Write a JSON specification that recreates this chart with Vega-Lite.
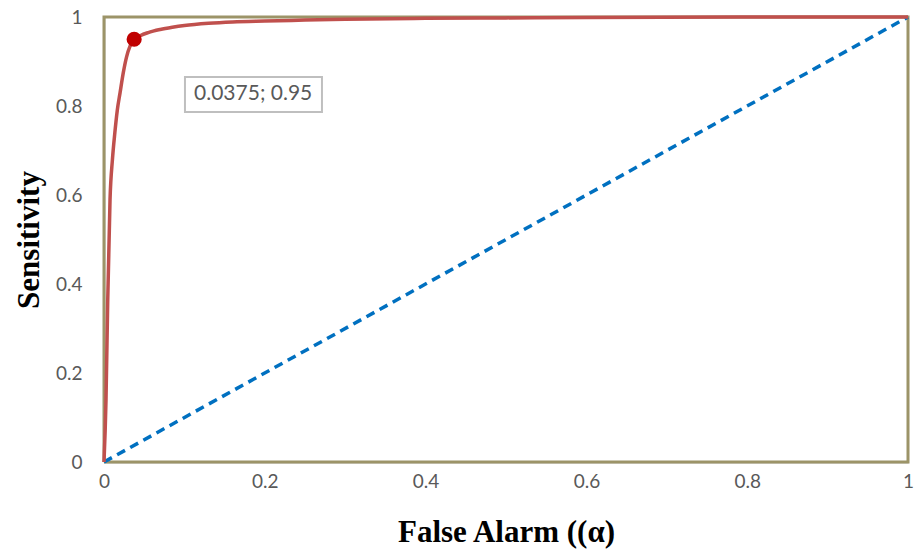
{
  "$schema": "https://vega.github.io/schema/vega-lite/v6.json",
  "autosize": "none",
  "width": 804,
  "height": 445,
  "padding": {"left": 104, "top": 17, "right": 7, "bottom": 87},
  "background": "white",
  "config": {
    "view": {"stroke": null},
    "axis": {"grid": false, "labelFont": "Lato", "labelFontSize": 19, "labelColor": "#595959", "labelFlush": false, "domainColor": "#BFBFBF", "domainWidth": 2, "tickColor": "#BFBFBF", "titleFont": "Liberation Serif", "titleFontWeight": "bold", "titleFontSize": 31, "titleColor": "#000000"}
  },
  "datasets": {
    "frame": [
      {"x": 0, "y": 0, "o": 1}, {"x": 0, "y": 1, "o": 2}, {"x": 1, "y": 1, "o": 3}, {"x": 1, "y": 0, "o": 4}, {"x": 0, "y": 0, "o": 5}
    ],
    "diag": [{"x": 0, "y": 0}, {"x": 1, "y": 1}],
    "roc": [
      {"x": 0, "y": 0}, {"x": 0.0025, "y": 0.14}, {"x": 0.0046, "y": 0.36}, {"x": 0.0075, "y": 0.59},
      {"x": 0.0105, "y": 0.68}, {"x": 0.0135, "y": 0.74}, {"x": 0.0165, "y": 0.79}, {"x": 0.02, "y": 0.83},
      {"x": 0.024, "y": 0.875}, {"x": 0.028, "y": 0.91}, {"x": 0.0325, "y": 0.935}, {"x": 0.0375, "y": 0.95},
      {"x": 0.045, "y": 0.958}, {"x": 0.055, "y": 0.965}, {"x": 0.07, "y": 0.972}, {"x": 0.085, "y": 0.977},
      {"x": 0.1, "y": 0.981}, {"x": 0.13, "y": 0.986}, {"x": 0.16, "y": 0.989}, {"x": 0.2, "y": 0.991},
      {"x": 0.25, "y": 0.993}, {"x": 0.3, "y": 0.995}, {"x": 0.4, "y": 0.997}, {"x": 0.5, "y": 0.998},
      {"x": 0.6, "y": 0.999}, {"x": 0.8, "y": 1}, {"x": 1, "y": 1}
    ],
    "pt": [{"x": 0.0375, "y": 0.95, "label": "0.0375; 0.95"}]
  },
  "encoding": {
    "x": {"field": "x", "type": "quantitative", "scale": {"domain": [0, 1], "nice": false},
      "axis": {"title": "False Alarm ((α)", "values": [0, 0.2, 0.4, 0.6, 0.8, 1], "format": "~g", "ticks": false, "labelPadding": 10, "titlePadding": 26}},
    "y": {"field": "y", "type": "quantitative", "scale": {"domain": [0, 1], "nice": false},
      "axis": {"title": "Sensitivity", "values": [0, 0.2, 0.4, 0.6, 0.8, 1], "format": "~g", "ticks": false, "labelPadding": 22, "titlePadding": 10}}
  },
  "layer": [
    {"data": {"name": "frame"}, "mark": {"type": "line", "color": "#9C9468", "strokeWidth": 3, "clip": false}, "encoding": {"order": {"field": "o"}}},
    {"data": {"name": "diag"}, "mark": {"type": "line", "color": "#0070C0", "strokeWidth": 3.5, "strokeDash": [9, 6]}},
    {"data": {"name": "roc"}, "mark": {"type": "line", "color": "#C0504D", "strokeWidth": 3.5, "interpolate": "monotone"}},
    {"data": {"name": "pt"}, "mark": {"type": "point", "filled": true, "color": "#C00000", "size": 230, "opacity": 1}},
    {"data": {"name": "pt"}, "mark": {"type": "rect", "fill": "white", "stroke": "#BFBFBF", "strokeWidth": 2},
      "encoding": {"x": {"datum": 0.1007, "type": "quantitative"}, "x2": {"datum": 0.2711}, "y": {"datum": 0.865, "type": "quantitative"}, "y2": {"datum": 0.7865}}},
    {"data": {"name": "pt"}, "mark": {"type": "text", "font": "Lato", "fontSize": 21, "color": "#595959", "align": "center", "baseline": "middle", "dx": 119, "dy": 55},
      "encoding": {"text": {"field": "label"}}}
  ]
}
